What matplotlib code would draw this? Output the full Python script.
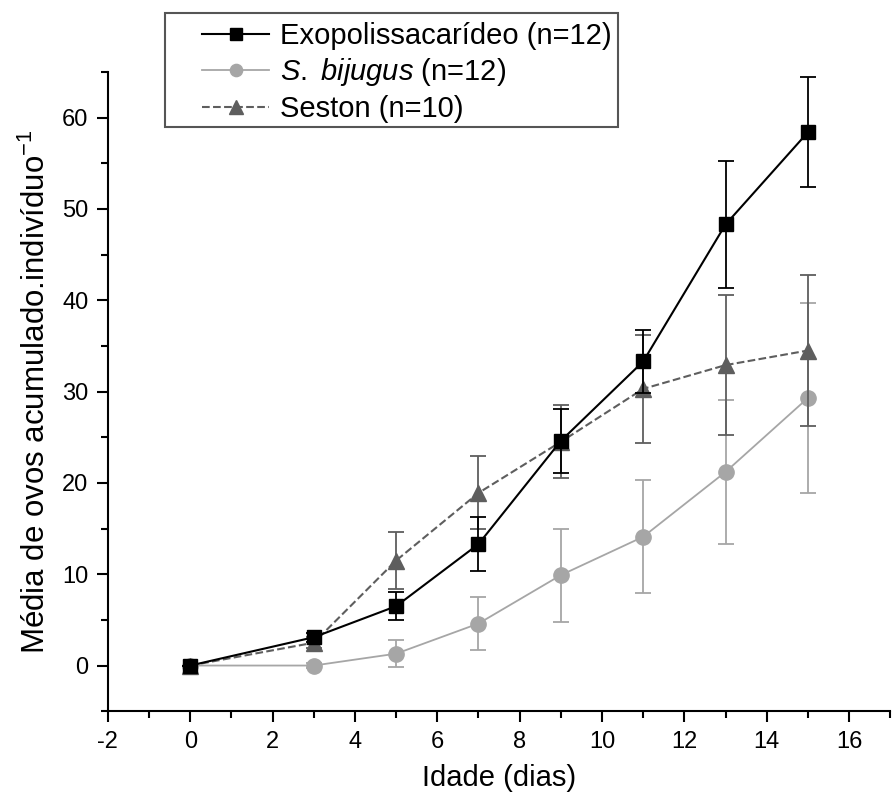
import matplotlib
matplotlib.use("Agg")
import matplotlib.pyplot as plt
from matplotlib.ticker import MultipleLocator
from matplotlib.patches import Rectangle

plt.rcParams['font.family'] = ['Liberation Sans', 'DejaVu Sans']
plt.rcParams['axes.unicode_minus'] = False
plt.rcParams['mathtext.fontset'] = 'custom'
plt.rcParams['mathtext.rm'] = 'Liberation Sans'
plt.rcParams['mathtext.it'] = 'Liberation Sans:italic'

dias = [0, 3, 5, 7, 9, 11, 13, 15]

exo = [0, 3.1, 6.5, 13.3, 24.6, 33.3, 48.3, 58.4]
exo_err = [0, 0.5, 1.5, 3.0, 3.5, 3.4, 6.9, 6.0]

bij = [0, 0.0, 1.3, 4.6, 9.9, 14.1, 21.2, 29.3]
bij_err = [0, 0.3, 1.5, 2.9, 5.1, 6.2, 7.9, 10.4]

ses = [0, 2.5, 11.5, 18.9, 24.5, 30.3, 32.9, 34.5]
ses_err = [0, 0.6, 3.1, 4.0, 4.0, 5.9, 7.7, 8.3]

fig = plt.figure(figsize=(8.92, 8), dpi=100)
ax = fig.add_axes([0.121, 0.111, 0.877, 0.799])

b = ax.errorbar(dias, bij, yerr=bij_err, color='#a6a6a6', marker='o', ms=11,
                lw=1.3, capsize=6, elinewidth=1.3, capthick=1.3, zorder=2)
s = ax.errorbar(dias, ses, yerr=ses_err, color='#5e5e5e', marker='^', ms=12,
                lw=1.5, ls='--', capsize=6, elinewidth=1.3, capthick=1.3, zorder=3)
e = ax.errorbar(dias, exo, yerr=exo_err, color='black', marker='s', ms=10,
                lw=1.5, capsize=6, elinewidth=1.3, capthick=1.3, zorder=4)

ax.set_xlim(-2, 17)
ax.set_ylim(-5, 65)
ax.xaxis.set_major_locator(MultipleLocator(2))
ax.xaxis.set_minor_locator(MultipleLocator(1))
ax.yaxis.set_major_locator(MultipleLocator(10))
ax.yaxis.set_minor_locator(MultipleLocator(5))
ax.spines['top'].set_visible(False)
ax.spines['right'].set_visible(False)
ax.spines['left'].set_linewidth(1.5)
ax.spines['bottom'].set_linewidth(1.5)
ax.tick_params(which='major', direction='out', length=8, width=1.5,
               labelsize=17, pad=6)
ax.tick_params(which='minor', direction='out', length=5, width=1.5)

ax.set_xlabel('Idade (dias)', fontsize=21, labelpad=8)
ax.set_ylabel('Média de ovos acumulado.indivíduo$^{-1}$', fontsize=22.5, labelpad=7)

leg = fig.legend([e[0], b[0], s[0]],
                 ['Exopolissacarídeo (n=12)', '$\\it{S.}$ $\\it{bijugus}$ (n=12)', 'Seston (n=10)'],
                 loc='upper left', bbox_to_anchor=(0.222, 0.978),
                 fontsize=21, frameon=False, borderaxespad=0,
                 handlelength=2.3, borderpad=0.15,
                 labelspacing=0.22, handletextpad=0.35, markerscale=0.8)

# frame with a wider left margin, as in the original
fig.canvas.draw()
bb = leg.get_window_extent().transformed(fig.transFigure.inverted())
frame = Rectangle((0.185, bb.y0), bb.x1 - 0.185 + 0.003, 0.984 - bb.y0,
                  transform=fig.transFigure, fill=False, edgecolor='#555555', lw=1.5)
fig.patches.append(frame)

fig.savefig('out.png', dpi=100)
